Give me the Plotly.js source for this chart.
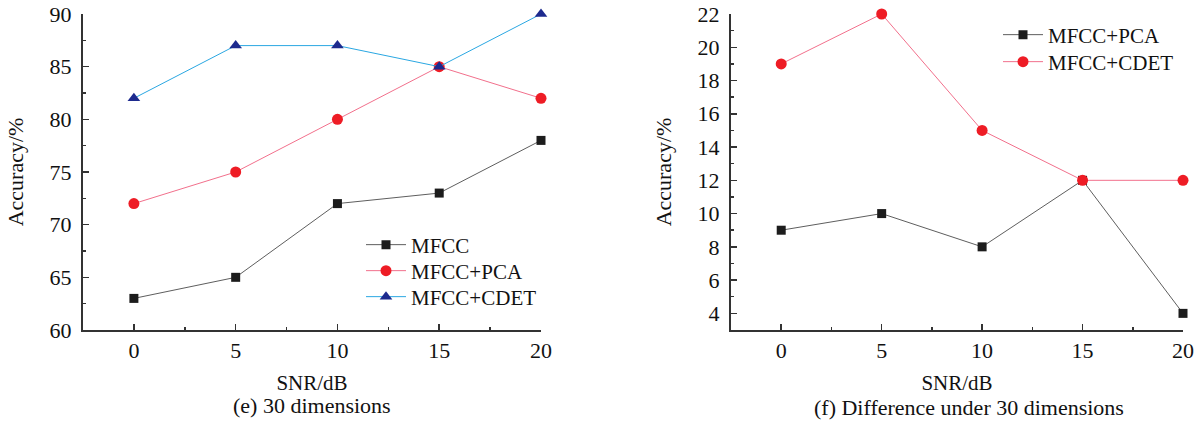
<!DOCTYPE html>
<html>
<head>
<meta charset="utf-8">
<script src="https://cdn.plot.ly/plotly-3.0.1.min.js"></script>
<style>
  html, body { margin: 0; padding: 0; background: #fff; }
  #chart { width: 1202px; height: 427px; }
</style>
</head>
<body>
<div id="chart"></div>
<script>
// SNR levels (dB) shared by both panels
const snr = [0, 5, 10, 15, 20];

// Panel (e): accuracy at 30 dimensions
const accMFCC = [63, 65, 72, 73, 78];
const accMFCCPCA = [72, 75, 80, 85, 82];
const accMFCCCDET = [82, 87, 87, 85, 90];

// Panel (f): improvement over plain MFCC at 30 dimensions
const diffPCA = [9, 10, 8, 12, 4];
const diffCDET = [19, 22, 15, 12, 12];

const FONT = "Liberation Serif, Times New Roman, serif";

const black = { line: '#5e5e5e', marker: '#1c1c1c' };
const red = { line: '#f2708c', marker: '#ee1c25' };
const blue = { line: '#2aa7e2', marker: '#1d2a8e' };

const markerSize = { square: 9, circle: 11, 'triangle-up': 11 };

function series(x, y, name, col, symbol, xa, ya, legend) {
  return {
    x: x, y: y, name: name, type: 'scatter', mode: 'lines+markers',
    xaxis: xa, yaxis: ya, legend: legend,
    line: { color: col.line, width: 1 },
    marker: { color: col.marker, symbol: symbol, size: markerSize[symbol], line: { width: 0 } },
    cliponaxis: false
  };
}

// each entry gets its own legend box so the rows can be spaced freely
const data = [
  series(snr, accMFCC, 'MFCC', black, 'square', 'x', 'y', 'legend'),
  series(snr, accMFCCPCA, 'MFCC+PCA', red, 'circle', 'x', 'y', 'legend2'),
  series(snr, accMFCCCDET, 'MFCC+CDET', blue, 'triangle-up', 'x', 'y', 'legend3'),
  series(snr, diffPCA, 'MFCC+PCA', black, 'square', 'x2', 'y2', 'legend4'),
  series(snr, diffCDET, 'MFCC+CDET', red, 'circle', 'x2', 'y2', 'legend5')
];

const tickStyle = { ticks: 'inside', ticklen: 6, tickwidth: 1.5, tickcolor: '#333' };
const minorStyle = { ticks: 'inside', ticklen: 3, tickwidth: 1.5, tickcolor: '#333' };

function xAxis(domain, anchor) {
  return Object.assign({
    domain: domain, anchor: anchor, range: [-2.5, 20],
    tick0: 0, dtick: 5,
    minor: Object.assign({ dtick: 2.5 }, minorStyle),
    showline: true, linecolor: '#333', linewidth: 2, showgrid: false, zeroline: false,
    tickfont: { family: FONT, size: 22, color: '#111' },
    title: { text: 'SNR/dB', font: { family: FONT, size: 21, color: '#111' }, standoff: 13 }
  }, tickStyle);
}

function yAxis(domain, anchor, range, dtick, minor) {
  return Object.assign({
    domain: domain, anchor: anchor, range: range,
    dtick: dtick, tick0: 0,
    minor: Object.assign({ dtick: minor }, minorStyle),
    showline: true, linecolor: '#333', linewidth: 2, showgrid: false, zeroline: false,
    ticklabelstandoff: 5,
    tickfont: { family: FONT, size: 22, color: '#111' },
    title: { text: 'Accuracy/%', font: { family: FONT, size: 22, color: '#111' }, standoff: 20 }
  }, tickStyle);
}

function legendAt(px, py) {
  return {
    x: px / 1202, y: 1 - py / 427, xanchor: 'left', yanchor: 'middle',
    bgcolor: 'rgba(0,0,0,0)', borderwidth: 0,
    font: { family: FONT, size: 21, color: '#111' },
    itemwidth: 40
  };
}

const yDom = [97 / 427, 413 / 427];

const layout = {
  width: 1202, height: 427,
  margin: { l: 0, r: 0, t: 0, b: 0 },
  paper_bgcolor: '#fff', plot_bgcolor: '#fff',
  font: { family: FONT, size: 20, color: '#111' },
  xaxis: xAxis([83 / 1202, 541 / 1202], 'y'),
  yaxis: yAxis(yDom, 'x', [60, 90], 5, 2.5),
  xaxis2: xAxis([731 / 1202, 1183 / 1202], 'y2'),
  yaxis2: yAxis(yDom, 'x2', [3, 22], 2, 1),
  legend: legendAt(361, 245),
  legend2: legendAt(361, 271),
  legend3: legendAt(361, 297),
  legend4: legendAt(998, 35),
  legend5: legendAt(998, 62),
  showlegend: true,
  annotations: [
    { text: '(e) 30 dimensions', x: 312 / 1202, y: 1 - 405 / 427, xref: 'paper', yref: 'paper',
      xanchor: 'center', yanchor: 'middle', showarrow: false, font: { family: FONT, size: 22, color: '#111' } },
    { text: '(f) Difference under 30 dimensions', x: 969 / 1202, y: 1 - 407 / 427, xref: 'paper', yref: 'paper',
      xanchor: 'center', yanchor: 'middle', showarrow: false, font: { family: FONT, size: 22, color: '#111' } }
  ]
};

Plotly.newPlot('chart', data, layout, { displayModeBar: false, staticPlot: true });
</script>
</body>
</html>
